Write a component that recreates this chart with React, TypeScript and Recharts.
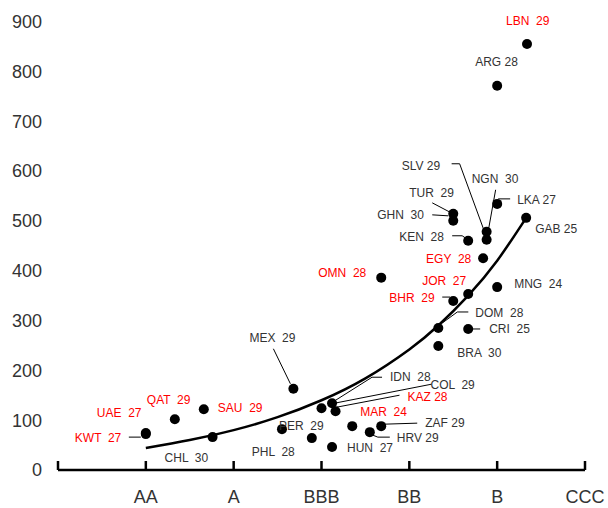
import React from 'react';
import { ComposedChart, XAxis, YAxis, Scatter, Line } from 'recharts';

// ---------- data ----------
const ratingLabels = ['', 'AA', 'A', 'BBB', 'BB', 'B', 'CCC'];
const ratingTicks = [0, 1, 2, 3, 4, 5, 6];
const spreadTicks = [0, 100, 200, 300, 400, 500, 600, 700, 800, 900];

const countries = ['KWT', 'UAE', 'QAT', 'SAU', 'CHL', 'MEX', 'PER', 'PHL', 'IDN', 'COL', 'KAZ', 'MAR', 'HUN', 'HRV', 'ZAF', 'OMN', 'BRA', 'DOM', 'CRI', 'BHR', 'JOR', 'MNG', 'EGY', 'KEN', 'SLV', 'NGN', 'GHN', 'TUR', 'GAB', 'LKA', 'ARG', 'LBN'];
const scores = [27, 27, 29, 29, 30, 29, 29, 28, 28, 29, 28, 24, 27, 29, 29, 28, 30, 28, 25, 29, 27, 24, 28, 28, 29, 30, 30, 29, 25, 27, 28, 29];
const ratings = [1.0, 1.0, 1.33, 1.66, 1.76, 2.68, 2.55, 2.89, 3.12, 3.16, 3.0, 3.35, 3.12, 3.55, 3.68, 3.68, 4.33, 4.33, 4.67, 4.5, 4.67, 5.0, 4.84, 4.67, 4.88, 4.88, 4.5, 4.5, 5.33, 5.0, 5.0, 5.34];
const spreads = [72, 74, 102, 122, 66, 163, 82, 64, 134, 118, 124, 88, 46, 76, 88, 386, 249, 285, 283, 339, 353, 367, 425, 460, 462, 478, 500, 514, 506, 534, 771, 855];
const highlighted = ['KWT', 'UAE', 'QAT', 'SAU', 'KAZ', 'MAR', 'OMN', 'BHR', 'JOR', 'EGY', 'LBN'];

const trendRatings = [1.0, 1.5, 2.0, 2.5, 3.0, 3.5, 4.0, 4.33, 4.67, 5.0, 5.33];
const trendSpreads = [44, 60, 80, 106, 140, 184, 242, 290, 350, 420, 506];

// ---------- label layout (pixel offsets from each dot) ----------
type Layout = { dx: number; dy: number; sp?: number; leader?: number[][] };
const labelLayout: Record<string, Layout> = {
  KWT: { dx: -71, dy: 4, sp: 2, leader: [[-17, 3], [-5, 3]] },
  UAE: { dx: -49, dy: -20, sp: 2 },
  QAT: { dx: -28, dy: -19, sp: 2 },
  SAU: { dx: 14, dy: -1, sp: 2 },
  CHL: { dx: -48, dy: 21, sp: 2 },
  MEX: { dx: -44, dy: -51, sp: 2, leader: [[-20, -40], [-3, -5]] },
  PER: { dx: -3, dy: -3, sp: 2 },
  PHL: { dx: -60, dy: 14, sp: 2 },
  IDN: { dx: 58, dy: -26, sp: 2, leader: [[50, -26], [40, -26], [2, -2]] },
  COL: { dx: 95, dy: -26, sp: 2, leader: [[96, -27], [-1, -8]] },
  KAZ: { dx: 86, dy: -11, sp: 1, leader: [[78, -13], [15, -1]] },
  MAR: { dx: 8, dy: -14, sp: 2 },
  HUN: { dx: 15, dy: 1, sp: 2 },
  HRV: { dx: 27, dy: 6, sp: 1, leader: [[3, 3], [8, 5], [20, 5]] },
  ZAF: { dx: 44, dy: -3, sp: 1, leader: [[4, -2], [36, -3]] },
  OMN: { dx: -63, dy: -5, sp: 2 },
  BRA: { dx: 19, dy: 7, sp: 2 },
  DOM: { dx: 37, dy: -15, sp: 2, leader: [[30, -16], [19, -16], [4, -5]] },
  CRI: { dx: 21, dy: 0, sp: 2, leader: [[4, 0], [12, 0]] },
  BHR: { dx: -64, dy: -3, sp: 2, leader: [[-11, -4], [-3, -4]] },
  JOR: { dx: -46, dy: -13, sp: 2 },
  MNG: { dx: 17, dy: -3, sp: 2 },
  EGY: { dx: -57, dy: 1, sp: 2 },
  KEN: { dx: -69, dy: -4, sp: 2, leader: [[-16, -5], [-6, -5], [-3, -3]] },
  SLV: { dx: -85, dy: -74, sp: 1, leader: [[-35, -76], [-27, -76], [-1, -5]] },
  NGN: { dx: -15, dy: -53, sp: 2, leader: [[9, -42], [2, -3]] },
  GHN: { dx: -76, dy: -6, sp: 2, leader: [[-21, -6], [-5, -5]] },
  TUR: { dx: -44, dy: -21, sp: 2, leader: [[-21, -11], [-2, -1]] },
  GAB: { dx: 9, dy: 11, sp: 1 },
  LKA: { dx: 20, dy: -4, sp: 1, leader: [[1, -5], [13, -5]] },
  ARG: { dx: -22, dy: -24, sp: 1 },
  LBN: { dx: -21, dy: -23, sp: 2 },
};

const points = countries.map((c, i) => ({ name: c, score: scores[i], x: ratings[i], y: spreads[i] }));
const trend = trendRatings.map((r, i) => ({ x: r, y: trendSpreads[i] }));

const FONT = '"Liberation Sans", Arial, sans-serif';
const RED = '#FF0000';
const DARK = '#333333';

const PointShape = (props: any) => {
  const { cx, cy, payload } = props;
  if (cx == null || cy == null) return null;
  const lay = labelLayout[payload.name] || { dx: 8, dy: 0 };
  const red = highlighted.includes(payload.name);
  const text = payload.name + (lay.sp === 1 ? ' ' : '  ') + payload.score;
  return (
    <g>
      {lay.leader && (
        <polyline
          points={lay.leader.map((p) => `${cx + p[0]},${cy + p[1]}`).join(' ')}
          fill="none"
          stroke="#000"
          strokeWidth={1}
        />
      )}
      <circle cx={cx} cy={cy} r={5} fill="#000" />
      <text
        x={cx + lay.dx}
        y={cy + lay.dy}
        dominantBaseline="central"
        fontSize={12}
        fontFamily={FONT}
        fill={red ? RED : DARK}
        style={{ whiteSpace: 'pre' }}
      >
        {text}
      </text>
    </g>
  );
};

const XTick = (props: any) => {
  const { x, y, payload } = props;
  const label = ratingLabels[payload.value] || '';
  return (
    <g>
      <line x1={x} x2={x} y1={y} y2={y - 9} stroke="#000" strokeWidth={2.5} />
      {label && (
        <text x={x} y={y + 27} textAnchor="middle" dominantBaseline="central" fontSize={18} fontFamily={FONT} fill={DARK}>
          {label}
        </text>
      )}
    </g>
  );
};

export default function App() {
  return (
    <div style={{ position: 'absolute', left: 8, top: 8, width: 600, height: 500 }}>
      <style>{'html, body { overflow: hidden; }'}</style>
      <ComposedChart
        width={600}
        height={500}
        margin={{ top: 13.5, right: 23, bottom: 0, left: 0 }}
        style={{ overflow: 'visible' }}
      >
        <XAxis
          type="number"
          dataKey="x"
          domain={[0, 6]}
          ticks={ratingTicks}
          interval={0}
          height={38}
          tickSize={0}
          tickMargin={0}
          tickLine={false}
          axisLine={{ stroke: '#000', strokeWidth: 2.5 }}
          tick={<XTick />}
          allowDataOverflow
        />
        <YAxis
          type="number"
          dataKey="y"
          domain={[0, 900]}
          ticks={spreadTicks}
          interval={0}
          width={50}
          axisLine={false}
          tickLine={false}
          tickSize={0}
          tickMargin={16}
          tick={{ fontSize: 18, fill: DARK, fontFamily: FONT }}
        />
        <Line
          data={trend}
          dataKey="y"
          type="natural"
          stroke="#000"
          strokeWidth={2.5}
          dot={false}
          activeDot={false}
          isAnimationActive={false}
        />
        <Scatter data={points} dataKey="y" shape={<PointShape />} isAnimationActive={false} />
      </ComposedChart>
    </div>
  );
}
